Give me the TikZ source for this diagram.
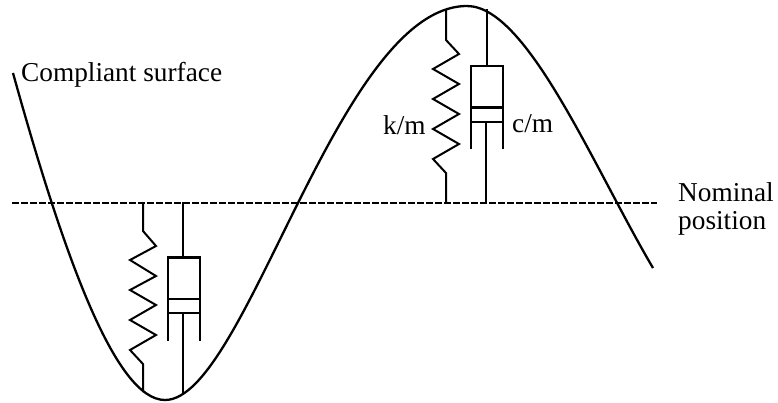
\documentclass[tikz,border=0pt]{standalone}
\usepackage{fontspec}
\setmainfont{Liberation Serif}
\usetikzlibrary{positioning,calc}

\begin{document}
\begin{tikzpicture}[x=1pt,y=-1pt,
    label/.style={inner sep=0pt,anchor=base west,font=\fontsize{27.3}{32}\selectfont},
    line/.style={draw,line width=2pt},
    wall/.style={draw,line width=1.6pt},
    bar/.style={draw,line width=2.8pt}]
    \useasboundingbox (0,0) rectangle (778,402);
    % surface and nominal line
    \coordinate (surfS) at (13,73);
    \coordinate (surfB) at (165,400);
    \coordinate (surfT) at (467,6);
    \coordinate (surfE) at (653,268);
    \draw[line,line width=2.3pt] (surfS) .. controls (63,253) and (115,400) .. (surfB)
        .. controls (246,400) and (338,6) .. (surfT)
        .. controls (527,6) and (593,166) .. (surfE);
    \coordinate (nomL) at (12,203);
    \coordinate (nomR) at (657,203);
    \draw[line,dash pattern=on 6.5pt off 2.5pt] (nomL)--(nomR);
    % labels
    \node[label](surf) at (21,81){Compliant surface};
    \node[label](nom) at (678,201){Nominal};
    \node[label,below=28pt of nom.base west,anchor=base west](pos){position};
    \node[label](km) at (383,134){k/m};
    \node[label](cm) at (512,132){c/m};
    % upper spring and damper
    \coordinate (upS) at (446,10);
    \coordinate (upE) at (446,202);
    \draw[line] (upS)--(446,40)--(459,54)--(433,69)--(459,84)--(433,99)--(459,114)--(433,129)--(459,144)--(433,159)--(446,173)--(upE);
    \coordinate (upRodT) at (487,9);
    \coordinate (upBoxT) at (487,65);
    \draw[line] (upRodT)--(upBoxT);
    \draw[wall] (471,149)--(471,65.5)--(503,65.5)--(503,149);
    \draw[bar] (471,66)--(503,66);
    \draw[bar] (471,107.5)--(503,107.5);
    \draw[bar] (471,122)--(503,122);
    \coordinate (upRodB) at (486,122);
    \coordinate (upRodE) at (486,202);
    \draw[line] (upRodB)--(upRodE);
    % lower spring and damper
    \coordinate (loS) at (143,202);
    \coordinate (loE) at (143,392);
    \draw[line] (loS)--(143,231)--(156,246)--(130,260)--(156,276)--(130,290)--(156,305)--(130,320)--(156,335)--(130,350)--(143,364)--(loE);
    \coordinate (loRodT) at (183,202);
    \coordinate (loBoxT) at (183,257);
    \draw[line] (loRodT)--(loBoxT);
    \draw[wall] (168,341)--(168,257)--(200,257)--(200,341);
    \draw[bar] (168,257.5)--(200,257.5);
    \draw[bar] (168,299)--(200,299);
    \draw[bar] (168,313)--(200,313);
    \coordinate (loRodB) at (183,313);
    \coordinate (loRodE) at (183,394);
    \draw[line] (loRodB)--(loRodE);
\end{tikzpicture}
\end{document}
